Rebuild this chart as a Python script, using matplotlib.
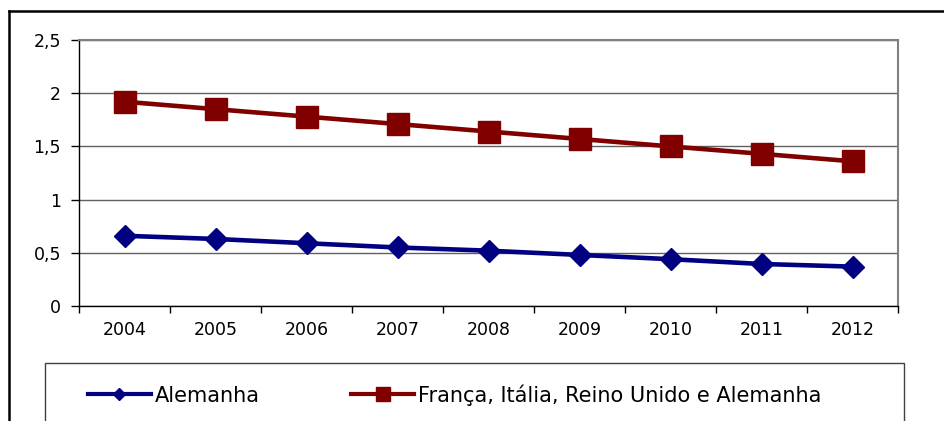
import numpy as np
import matplotlib.pyplot as plt
from matplotlib.lines import Line2D
from matplotlib.patches import Rectangle

anos = ['2004', '2005', '2006', '2007', '2008', '2009', '2010', '2011', '2012']
alemanha = [0.66, 0.63, 0.59, 0.55, 0.52, 0.48, 0.44, 0.395, 0.37]
grupo = [1.92, 1.85, 1.78, 1.71, 1.64, 1.57, 1.50, 1.43, 1.36]
yticks = [0, 0.5, 1, 1.5, 2, 2.5]
ytick_labels = ['0', '0,5', '1', '1,5', '2', '2,5']
nome_alemanha = 'Alemanha'
nome_grupo = 'França, Itália, Reino Unido e Alemanha'

azul = '#000080'
vermelho = '#800000'

plt.rcParams['font.family'] = ['DejaVu Sans']

W, H = 944, 421
fig = plt.figure(figsize=(W / 100, H / 100), dpi=100)
fig.patch.set_facecolor('white')

ax = fig.add_axes([79 / W, 1 - 306 / H, (898 - 79) / W, (306 - 40) / H])
x = np.arange(len(anos))
ax.plot(x, alemanha, color=azul, lw=3.3, marker='D', ms=11.5, zorder=3)
ax.plot(x, grupo, color=vermelho, lw=3.3, marker='s', ms=16, zorder=3)

ax.set_xlim(-0.5, len(anos) - 0.5)
ax.set_ylim(0, 2.5)
ax.set_yticks(yticks)
ax.set_yticklabels(ytick_labels, fontsize=12.5)
ax.set_xticks(x)
ax.set_xticklabels(anos, fontsize=12.5)
ax.set_xticks(np.arange(-0.5, len(anos), 1), minor=True)
ax.tick_params(axis='x', which='major', length=0, pad=11)
ax.tick_params(axis='x', which='minor', length=5, direction='out', width=1)
ax.tick_params(axis='y', length=6, direction='out', width=1, pad=7)

ax.yaxis.grid(True, color='#606060', lw=1)
ax.set_axisbelow(True)
for s in ['left', 'bottom']:
    ax.spines[s].set_color('black')
    ax.spines[s].set_linewidth(1)
for s in ['top', 'right']:
    ax.spines[s].set_color('#808080')
    ax.spines[s].set_linewidth(1.5)

# legenda
handles = [
    Line2D([], [], color=azul, lw=3, marker='D', ms=6.6, label=nome_alemanha),
    Line2D([], [], color=vermelho, lw=3, marker='s', ms=10, label=nome_grupo),
]
fig.legend(handles=handles, loc='center left', bbox_to_anchor=(88 / W, 1 - 395 / H),
           frameon=False, ncol=2, fontsize=15, borderpad=0, borderaxespad=0,
           handlelength=3.0, handletextpad=0.2, columnspacing=4.4)
fig.add_artist(Rectangle((45 / W, -0.1), (904 - 45) / W, 0.1 + 1 - 363 / H,
                         transform=fig.transFigure, fill=False, ec='#404040', lw=1))

# moldura externa
fig.add_artist(Line2D([9 / W, 9 / W], [0, 1 - 11 / H], transform=fig.transFigure,
                      color='black', lw=1.8))
fig.add_artist(Line2D([9 / W, 1], [1 - 11 / H, 1 - 11 / H], transform=fig.transFigure,
                      color='black', lw=1.8))

fig.savefig('out.png', dpi=100)
